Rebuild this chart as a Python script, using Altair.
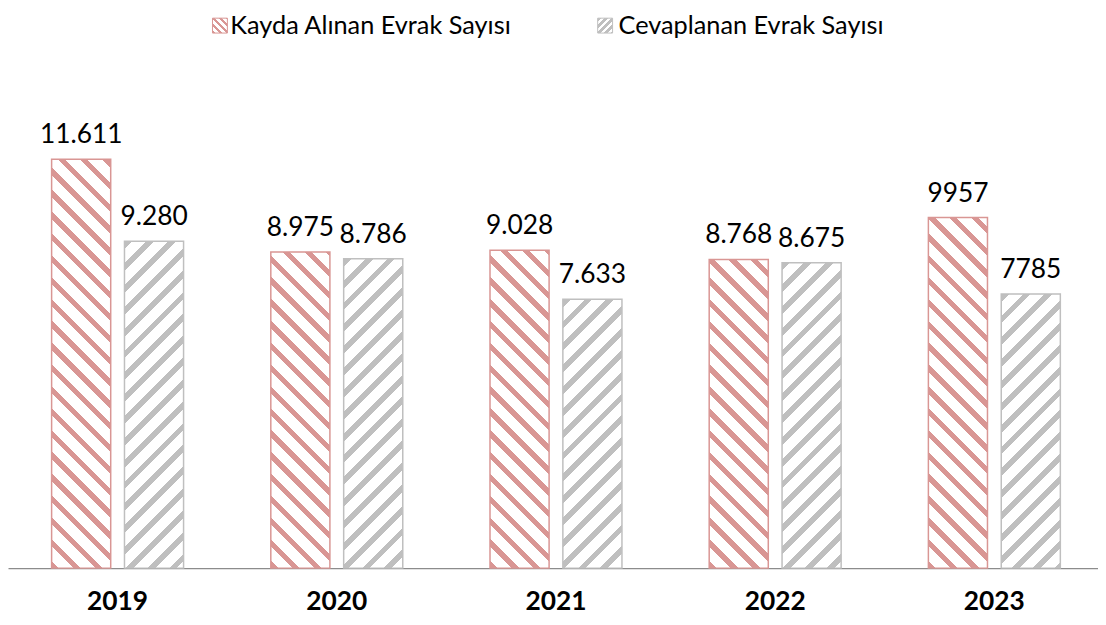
import altair as alt
import pandas as pd

# ---------------- data ----------------
years = ["2019", "2020", "2021", "2022", "2023"]
series = ["Kayda Alınan Evrak Sayısı", "Cevaplanan Evrak Sayısı"]
received = [11611, 8975, 9028, 8768, 9957]
answered = [9280, 8786, 7633, 8675, 7785]
received_labels = ["11.611", "8.975", "9.028", "8.768", "9957"]
answered_labels = ["9.280", "8.786", "7.633", "8.675", "7785"]

# ---------------- style / layout ----------------
FONT = "Lato"
colors = ["#D99694", "#BFBFBF"]
W, H = 1098, 546
TOP = 16
YMAX = 15393
XRANGE = 1104
PI, PO, PI2 = 0.398, 0.199, 0.189
PERIOD = 22
FRAC = [0.34, 0.36]

step = XRANGE / (len(years) - PI + 2 * PO)
band = step * (1 - PI)
step2 = band / (2 - PI2)
BW = step2 * (1 - PI2)


def hatch(w, h, color, down, frac, period=PERIOD):
    c = (w + h) / (w * w + h * h)
    if down:
        x1, y1, x2, y2 = 0, 1, c * w, 1 - c * h
    else:
        x1, y1, x2, y2 = 0, 0, c * w, c * h
    dt = period / (w + h)
    stops = []
    t = 0.0
    while t < 1:
        a = min(t + frac * dt, 1.0)
        b = min(t + dt, 1.0)
        stops.append({"offset": t, "color": color})
        stops.append({"offset": a, "color": color})
        stops.append({"offset": a, "color": "#ffffff"})
        stops.append({"offset": b, "color": "#ffffff"})
        t += dt
    return {"gradient": "linear", "x1": x1, "y1": y1, "x2": x2, "y2": y2, "stops": stops}


rows = []
for i, y in enumerate(years):
    rows.append({"year": y, "series": series[0], "value": received[i],
                 "label": received_labels[i], "id": f"r{i}"})
    rows.append({"year": y, "series": series[1], "value": answered[i],
                 "label": answered_labels[i], "id": f"a{i}"})
df = pd.DataFrame(rows)

conds = []
for r in rows:
    h = r["value"] * H / YMAX
    k = 0 if r["series"] == series[0] else 1
    conds.append({"test": f"datum.id === '{r['id']}'",
                  "value": hatch(BW, h, colors[k], k == 0, FRAC[k])})

xenc = alt.X("year:N", sort=years,
             scale=alt.Scale(range=[0, XRANGE], paddingInner=PI, paddingOuter=PO),
             axis=alt.Axis(title=None, labelFont=FONT, labelFontSize=26.5,
                           labelFontWeight="bold", labelColor="#000000",
                           labelAngle=0, ticks=False, tickSize=0,
                           labelPadding=34, labelBaseline="middle",
                           domainColor="#8C8C8C", domainWidth=1.5, grid=False))
xoff = alt.XOffset("series:N", sort=series,
                   scale=alt.Scale(domain=series, paddingInner=PI2, paddingOuter=0))
yenc = alt.Y("value:Q", scale=alt.Scale(domain=[0, YMAX], nice=False, zero=True), axis=None)

base = alt.Chart(df)
bars = base.mark_bar(strokeWidth=1.5).encode(
    x=xenc, xOffset=xoff, y=yenc,
    stroke=alt.Stroke("series:N", sort=series,
                      scale=alt.Scale(domain=series, range=colors), legend=None),
    fill=alt.FillValue(value="#ffffff", condition=conds),
)
labels = base.mark_text(font=FONT, fontSize=26.5, color="#000000",
                        baseline="alphabetic", dy=-16).encode(
    x=xenc, xOffset=xoff, y=yenc, text="label:N")

# ---------------- legend ----------------
leg_x = [206, 594]
leg_gap = [18, 21]
layers = [bars, labels]
for k in range(2):
    ld = pd.DataFrame({"label": [series[k]]})
    sq = alt.Chart(ld).mark_rect(strokeWidth=1).encode(
        x=alt.value(leg_x[k]), x2=alt.value(leg_x[k] + 15),
        y=alt.value(-8), y2=alt.value(7),
        fill=alt.value(hatch(15, 15, colors[k], k == 0, 0.5, period=7)),
        stroke=alt.value(colors[k]),
    )
    tx = alt.Chart(ld).mark_text(font=FONT, fontSize=25.5, color="#000000",
                                 align="left", baseline="middle").encode(
        x=alt.value(leg_x[k] + leg_gap[k]), y=alt.value(0), text="label:N")
    layers += [sq, tx]

chart = alt.layer(*layers).properties(
    width=W, height=H,
    padding={"left": 0, "top": TOP, "right": 0, "bottom": 47},
    autosize=alt.AutoSizeParams(type="none"),
).configure_view(stroke=None)

chart.save("out.html", embed_options={"renderer": "svg", "actions": False})
